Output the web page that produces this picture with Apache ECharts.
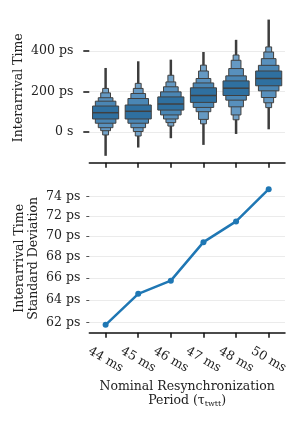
<!DOCTYPE html>
<html><head><meta charset="utf-8">
<script src="https://cdn.jsdelivr.net/npm/echarts@6/dist/echarts.min.js"></script>
<style>html,body{margin:0;padding:0;background:#fff}#c{width:301px;height:423px}</style>
</head><body><div id="c"></div>
<script>
// ---- data ----
const categories = ['44 ms', '45 ms', '46 ms', '47 ms', '48 ms', '50 ms'];
const medians = [95, 102, 138, 180, 216, 264];
// letter-value boxes [low, high] per category, innermost first
const level1 = [[64, 128], [64, 133], [108, 173], [146, 218], [180, 252], [228, 301]];
const level2 = [[43, 152], [43, 165], [84, 198], [121, 242], [157, 277], [203, 329]];
const level3 = [[21, 169], [21, 190], [64, 223], [100, 264], [124, 313], [170, 362]];
const level4 = [[6, 193], [2, 215], [46, 247], [62, 301], [84, 354], [144, 395]];
const level5 = [[-15, 215], [-20, 240], [29, 280], [40, 330], [60, 380], [120, 420]];
const whiskerMin = [-118, -77, -31, -64, -10, 13];
const whiskerMax = [316, 349, 357, 395, 455, 555];
const stdDev = [61.8, 64.55, 65.75, 69.4, 71.45, 74.75];
const topTicks = [0, 200, 400];
const bottomTicks = [62, 64, 66, 68, 70, 72, 74];

// ---- style ----
const levels = [level1, level2, level3, level4, level5];
const levelWidths = [0.8, 0.63, 0.45, 0.3, 0.18];
const levelColors = ['#2f70a0', '#4a86b4', '#5890bd', '#6599c3', '#72a2c8'];
const FONT = 'DejaVu Serif';
const FS = 12.5;
const TXT = '#222';

const chart = echarts.init(document.getElementById('c'), null, {renderer: 'canvas'});

function renderBoxen(params, api) {
  const i = params.dataIndex;
  const band = api.size([1, 0])[0];
  const children = [];
  const t = api.coord([i, whiskerMax[i]]);
  const b = api.coord([i, whiskerMin[i]]);
  children.push({type: 'line', shape: {x1: t[0], y1: t[1], x2: b[0], y2: b[1]},
    style: {stroke: '#3d3d3d', lineWidth: 2.5}});
  for (let L = levels.length - 1; L >= 0; L--) {
    const lo = levels[L][i][0], hi = levels[L][i][1];
    const p1 = api.coord([i, hi]);
    const p2 = api.coord([i, lo]);
    const w = band * levelWidths[L];
    children.push({type: 'rect', shape: {x: p1[0] - w / 2, y: p1[1], width: w, height: p2[1] - p1[1]},
      style: {fill: levelColors[L], stroke: '#404040', lineWidth: 1}});
  }
  const m = api.coord([i, medians[i]]);
  const w0 = band * levelWidths[0];
  children.push({type: 'line', shape: {x1: m[0] - w0 / 2, y1: m[1], x2: m[0] + w0 / 2, y2: m[1]},
    style: {stroke: '#404040', lineWidth: 1.5}});
  return {type: 'group', children};
}

const xBase = {
  type: 'category', data: categories, boundaryGap: true,
  axisLine: {show: true, onZero: false, lineStyle: {color: '#111', width: 1.5}},
  axisTick: {show: true, alignWithLabel: true, interval: 0, length: 5, lineStyle: {color: '#111', width: 1.5}},
  splitLine: {show: false}
};

chart.setOption({
  animation: false,
  textStyle: {fontFamily: FONT},
  grid: [
    {left: 89.3, right: 16, top: 12.7, height: 150},
    {left: 89.3, right: 16, top: 184, height: 148.7}
  ],
  xAxis: [
    Object.assign({gridIndex: 0, axisLabel: {show: false}}, xBase),
    Object.assign({gridIndex: 1,
      axisLabel: {show: true, interval: 0, hideOverlap: false, rotate: -30, align: 'center', verticalAlign: 'middle', margin: 27,
        fontFamily: FONT, fontSize: FS, color: TXT},
      name: 'Nominal Resynchronization\nPeriod ({t|τ}{s|twtt})',
      nameLocation: 'middle', nameGap: 47,
      nameTextStyle: {fontFamily: FONT, fontSize: FS, color: TXT, lineHeight: 14, align: 'center',
        rich: {t: {fontFamily: FONT, fontSize: FS, color: TXT}, s: {fontFamily: FONT, fontSize: 8, color: TXT, verticalAlign: 'bottom', padding: [4, 0, 0, 0]}}}
    }, xBase)
  ],
  yAxis: [
    {type: 'value', gridIndex: 0, min: -152, max: 589,
      axisLine: {show: false},
      axisTick: {show: true, length: 6, customValues: topTicks, lineStyle: {color: '#111', width: 1.5}},
      axisLabel: {customValues: topTicks, margin: 16, fontFamily: FONT, fontSize: FS, color: TXT,
        formatter: v => v === 0 ? '0 s' : v + ' ps'},
      splitLine: {show: true, lineStyle: {color: '#ebebeb', width: 1}},
      name: 'Interarrival Time', nameLocation: 'middle', nameRotate: 90, nameGap: 64, nameMoveOverlap: false,
      nameTextStyle: {fontFamily: FONT, fontSize: FS, color: TXT}
    },
    {type: 'log', gridIndex: 1, min: 61.12, max: 75.3,
      axisLine: {show: false},
      axisTick: {show: true, length: 3, customValues: bottomTicks, lineStyle: {color: '#555', width: 1}},
      axisLabel: {customValues: bottomTicks, margin: 9, fontFamily: FONT, fontSize: FS, color: TXT,
        formatter: v => Math.round(v) + ' ps'},
      splitLine: {show: true, lineStyle: {color: '#ebebeb', width: 1}},
      name: 'Interarrival Time\nStandard Deviation', nameLocation: 'middle', nameRotate: 90, nameGap: 49, nameMoveOverlap: false,
      nameTextStyle: {fontFamily: FONT, fontSize: FS, color: TXT, lineHeight: 14}
    }
  ],
  series: [
    {type: 'custom', xAxisIndex: 0, yAxisIndex: 0, renderItem: renderBoxen,
      data: categories.map((c, i) => [i, medians[i]]), encode: {x: 0, y: 1}, clip: false, z: 3},
    {type: 'line', xAxisIndex: 1, yAxisIndex: 1, data: stdDev, symbol: 'circle', symbolSize: 6,
      showSymbol: true, lineStyle: {color: '#1f77b4', width: 2.5}, itemStyle: {color: '#1f77b4'}, z: 3}
  ]
});
</script></body></html>
